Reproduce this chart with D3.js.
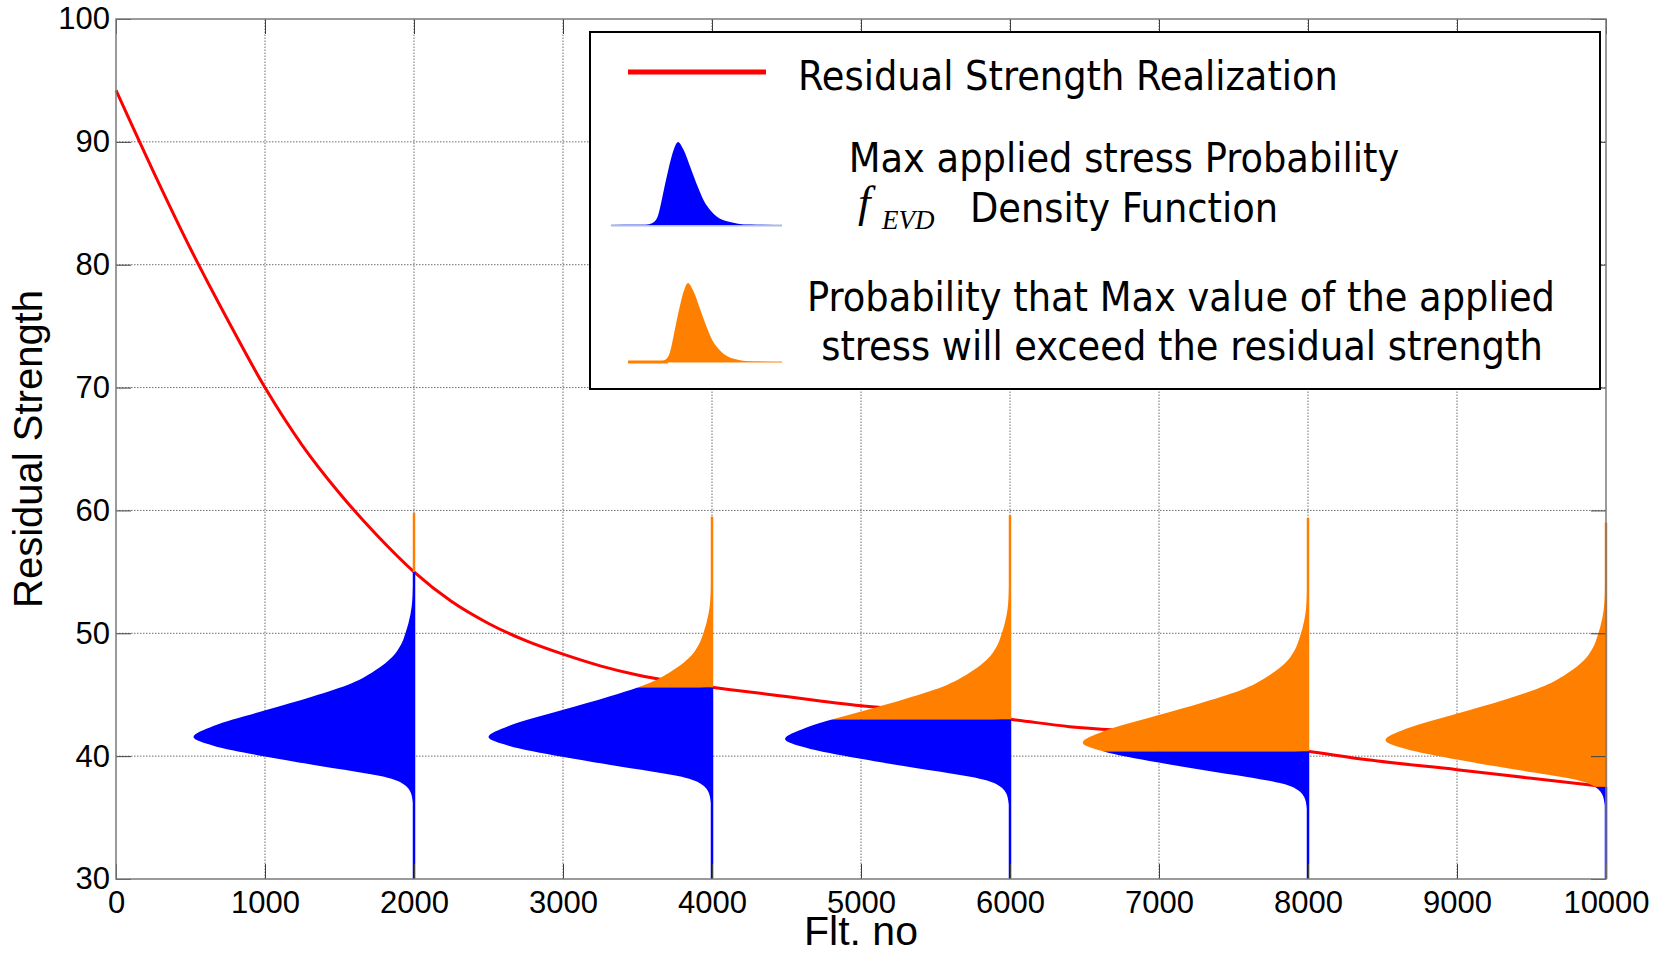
<!DOCTYPE html>
<html>
<head>
<meta charset="utf-8">
<script src="https://cdn.jsdelivr.net/npm/d3@7"></script>
<style>
body { margin: 0; background: #fff; }
svg { display: block; }
</style>
</head>
<body>
<div id="chart"></div>
<script>
// residual strength realization (flight no -> strength)
var flights  = [0, 250, 500, 750, 1000, 1250, 1500, 1750, 2000, 2250, 2500, 2750, 3000, 3250, 3500, 3750, 4000, 4400, 5000, 5500, 6000, 6400, 7000, 7500, 8000, 8400, 9000, 9500, 10000];
var residual = [94.2, 87.6, 81.3, 75.5, 70.0, 65.3, 61.4, 58.0, 55.0, 52.6, 50.8, 49.4, 48.3, 47.35, 46.6, 46.05, 45.6, 45.0, 44.1, 43.6, 43.0, 42.4, 41.9, 41.2, 40.4, 39.7, 38.9, 38.2, 37.5];

// max applied stress pdfs, drawn sideways at these flights
var pdfCenters = [2000, 4000, 6000, 8000, 10000];
var pdfModes   = [41.55, 41.55, 41.4, 41.1, 41.3];   // strength at the widest point
var pdfPeak    = [1480, 1500, 1510, 1512, 1480];     // peak width in flights
var pdfTop     = [59.8, 59.5, 59.6, 59.4, 59.0];     // end of the thin upper tail

// pdf shape: offset from mode vs relative density
var shapeOffset  = [-11.6, -6, -4.8, -4.0, -3.3, -2.8, -2.25, -1.6, -0.7, 0, 0.9, 2.2, 3.3, 4.4, 5.5, 6.5, 7.5, 8.5, 10, 12, 18.5];
var shapeDensity = [0, 0.002, 0.01, 0.035, 0.12, 0.27, 0.46, 0.67, 0.91, 1, 0.91, 0.67, 0.46, 0.28, 0.17, 0.1, 0.06, 0.038, 0.016, 0.005, 0];

var xTickValues = [0, 1000, 2000, 3000, 4000, 5000, 6000, 7000, 8000, 9000, 10000];
var yTickValues = [30, 40, 50, 60, 70, 80, 90, 100];

var W = 1655, H = 954;
var plot = {left: 116, right: 1606, top: 19, bottom: 879};
var BLUE = '#0000ff', ORANGE = '#ff8000', RED = '#ff0000';
var tickFont = '"Liberation Sans", Arial, Helvetica, sans-serif';
var legendFont = '"DejaVu Sans Condensed", "DejaVu Sans", Tahoma, sans-serif';

var x = d3.scaleLinear().domain([0, 10000]).range([plot.left, plot.right]);
var y = d3.scaleLinear().domain([30, 100]).range([plot.bottom, plot.top]);

var svg = d3.select('#chart').append('svg')
    .attr('width', W)
    .attr('height', H);
svg.append('rect').attr('width', W).attr('height', H).attr('fill', '#fff');

var shape = shapeOffset.map(function(o, i) { return {off: o, dens: shapeDensity[i]}; });

//dotted grid
var grid = svg.append('g');
grid.selectAll('line.gx')
    .data(xTickValues.slice(1, -1))
    .enter().append('line')
    .attr('x1', function(d) { return x(d); })
    .attr('x2', function(d) { return x(d); })
    .attr('y1', y(30)).attr('y2', y(100));
grid.selectAll('line.gy')
    .data(yTickValues.slice(1, -1))
    .enter().append('line')
    .attr('x1', x(0)).attr('x2', x(10000))
    .attr('y1', function(d) { return y(d); })
    .attr('y2', function(d) { return y(d); });
grid.selectAll('line')
    .attr('stroke', '#6e6e6e')
    .attr('stroke-width', 1)
    .attr('stroke-dasharray', '1.5,1.5');

//residual strength line
var redLine = d3.line()
    .x(function(d, i) { return x(flights[i]); })
    .y(function(d) { return y(d); })
    .curve(d3.curveMonotoneX);
svg.append('path')
    .datum(residual)
    .attr('d', redLine)
    .attr('fill', 'none')
    .attr('stroke', RED)
    .attr('stroke-width', 3);

//sideways pdfs, blue below the residual strength, orange above
var defs = svg.append('defs');
pdfCenters.forEach(function(c, i) {
    var split = residual[flights.indexOf(c)];
    var mode = pdfModes[i], amp = pdfPeak[i];
    var area = d3.area()
        .y(function(d) { return y(mode + d.off); })
        .x0(function(d) { return x(c - d.dens * amp); })
        .x1(x(c))
        .curve(d3.curveMonotoneY);

    defs.append('clipPath').attr('id', 'below' + i)
        .append('rect')
        .attr('x', 0).attr('width', W)
        .attr('y', y(split)).attr('height', y(30) - y(split) + 2);
    defs.append('clipPath').attr('id', 'above' + i)
        .append('rect')
        .attr('x', 0).attr('width', W)
        .attr('y', 0).attr('height', y(split));

    var g = svg.append('g');
    g.append('path').datum(shape).attr('d', area)
        .attr('fill', BLUE).attr('clip-path', 'url(#below' + i + ')');
    g.append('path').datum(shape).attr('d', area)
        .attr('fill', ORANGE).attr('clip-path', 'url(#above' + i + ')');
    g.append('line')
        .attr('x1', x(c)).attr('x2', x(c))
        .attr('y1', y(30)).attr('y2', y(split))
        .attr('stroke', BLUE).attr('stroke-width', 2.5);
    g.append('line')
        .attr('x1', x(c)).attr('x2', x(c))
        .attr('y1', y(split)).attr('y2', y(pdfTop[i]))
        .attr('stroke', ORANGE).attr('stroke-width', 2.5);
});

//axes: ticks inside on all four sides, labels bottom and left
function styleAxis(g) {
    g.select('.domain').remove();
    g.selectAll('.tick line').attr('stroke', '#404040').attr('stroke-width', 1);
    g.attr('font-family', tickFont).attr('font-size', 31);
    g.selectAll('.tick text').attr('fill', '#000');
}
svg.append('g')
    .attr('transform', 'translate(0,' + plot.bottom + ')')
    .call(d3.axisBottom(x).tickValues(xTickValues).tickSize(-15).tickPadding(12).tickFormat(d3.format('d')))
    .call(styleAxis);
svg.append('g')
    .attr('transform', 'translate(0,' + plot.top + ')')
    .call(d3.axisTop(x).tickValues(xTickValues).tickSize(-15).tickFormat(function() { return ''; }))
    .call(styleAxis);
svg.append('g')
    .attr('transform', 'translate(' + plot.left + ',0)')
    .call(d3.axisLeft(y).tickValues(yTickValues).tickSize(-15).tickPadding(6))
    .call(styleAxis);
svg.append('g')
    .attr('transform', 'translate(' + plot.right + ',0)')
    .call(d3.axisRight(y).tickValues(yTickValues).tickSize(-15).tickFormat(function() { return ''; }))
    .call(styleAxis);

svg.append('rect')
    .attr('x', plot.left).attr('y', plot.top)
    .attr('width', plot.right - plot.left).attr('height', plot.bottom - plot.top)
    .attr('fill', 'none')
    .attr('stroke', '#7a7a7a')
    .attr('stroke-width', 1.5);

//axis titles
svg.append('text')
    .attr('x', 861).attr('y', 945)
    .attr('text-anchor', 'middle')
    .attr('font-family', tickFont).attr('font-size', 41)
    .text('Flt. no');
svg.append('text')
    .attr('transform', 'translate(42,449) rotate(-90)')
    .attr('text-anchor', 'middle')
    .attr('font-family', tickFont).attr('font-size', 40)
    .text('Residual Strength');

//legend
var leg = svg.append('g');
leg.append('rect')
    .attr('x', 590).attr('y', 32).attr('width', 1010).attr('height', 357)
    .attr('fill', '#fff').attr('stroke', '#000').attr('stroke-width', 2);

leg.append('line')
    .attr('x1', 628).attr('x2', 766).attr('y1', 72).attr('y2', 72)
    .attr('stroke', RED).attr('stroke-width', 5);

//small upright pdf icons
function icon(peakX, baseY, height, pxPerUnit, fill) {
    var ix = d3.scaleLinear().domain([0, 1]).range([peakX, peakX + pxPerUnit]);
    var iy = d3.scaleLinear().domain([0, 1]).range([baseY, baseY - height]);
    var a = d3.area()
        .x(function(d) { return ix(d.off); })
        .y0(baseY)
        .y1(function(d) { return iy(d.dens); })
        .curve(d3.curveMonotoneX);
    leg.append('path').datum(shape).attr('d', a).attr('fill', fill);
}
leg.append('line')
    .attr('x1', 611).attr('x2', 782).attr('y1', 225.5).attr('y2', 225.5)
    .attr('stroke', '#a9bedf').attr('stroke-width', 2);
icon(678, 225, 83, 6, BLUE);
leg.append('line')
    .attr('x1', 628).attr('x2', 782).attr('y1', 362).attr('y2', 362)
    .attr('stroke', '#ffc283').attr('stroke-width', 2);
leg.append('line')
    .attr('x1', 628).attr('x2', 668).attr('y1', 362).attr('y2', 362)
    .attr('stroke', ORANGE).attr('stroke-width', 3);
icon(688, 362, 79, 5.5, ORANGE);

var legendText = [
    {t: 'Residual Strength Realization', x: 1068, y: 90},
    {t: 'Max applied stress Probability', x: 1124, y: 172},
    {t: 'Density Function', x: 1124, y: 222},
    {t: 'Probability that Max value of the applied', x: 1181, y: 311},
    {t: 'stress will exceed the residual strength', x: 1182, y: 360}
];
var lt = leg.selectAll('text.lt')
    .data(legendText)
    .enter().append('text')
    .attr('class', 'lt')
    .attr('x', function(d) { return d.x; })
    .attr('y', function(d) { return d.y; })
    .attr('text-anchor', 'middle')
    .attr('font-family', legendFont)
    .attr('font-size', 40)
    .text(function(d) { return d.t; });
//fit to the width of the first entry (540px in the picture)
var w0 = lt.node().getComputedTextLength();
if (w0 > 0) lt.attr('font-size', 40 * 540 / w0);

var fe = leg.append('text')
    .attr('font-family', '"Liberation Serif", "Times New Roman", serif')
    .attr('font-style', 'italic');
fe.append('tspan').attr('x', 858).attr('y', 217).attr('font-size', 45).text('f');
fe.append('tspan').attr('x', 882).attr('y', 229).attr('font-size', 27).text('EVD');
</script>
</body>
</html>
